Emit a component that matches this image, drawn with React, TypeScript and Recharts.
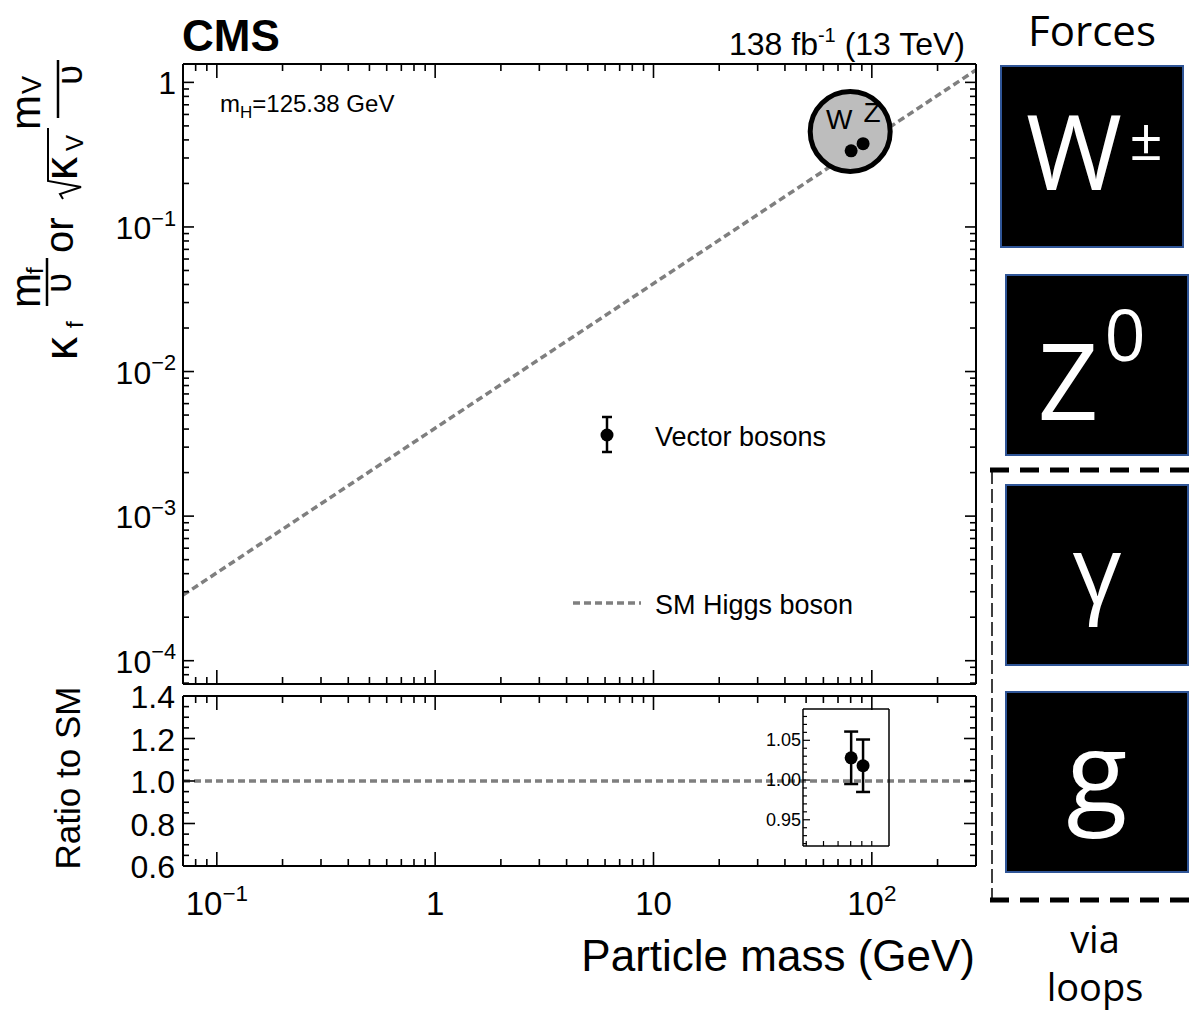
import React from 'react';
import {
  ComposedChart,
  Line,
  Scatter,
  XAxis,
  YAxis,
  ErrorBar,
  ReferenceDot,
} from 'recharts';

const FONT = "'Liberation Sans', Arial, Helvetica, sans-serif";
const SLIDE_FONT = "'Open Sans', 'Noto Sans', sans-serif";

// Vector boson measurements (W, Z)
const bosonNames = ['W', 'Z'];
const bosonMasses = [80.4, 91.19];
const bosonCouplings = [0.336, 0.377];
const bosonRatios = [1.028, 1.018];
const bosonRatioErrors = [0.033, 0.033];

// SM Higgs boson expectation (straight line on log-log axes)
const smMasses = [0.07, 300];
const smCouplings = [0.000284, 1.218];
const smRatios = [1, 1];

// Highlight circle around the W/Z points
const highlightMass = 79.6;
const highlightCoupling = 0.457;

// Axis ranges
const massDomain: [number, number] = [0.07, 300];
const couplingDomain: [number, number] = [6.9e-5, 1.34];
const ratioDomain: [number, number] = [0.6, 1.4];
const insetMassDomain: [number, number] = [48.3, 120];
const insetRatioDomain: [number, number] = [0.917, 1.0894];

// Tick positions
const massTicks = [
  0.07, 0.08, 0.09, 0.1, 0.2, 0.3, 0.4, 0.5, 0.6, 0.7, 0.8, 0.9,
  1, 2, 3, 4, 5, 6, 7, 8, 9, 10, 20, 30, 40, 50, 60, 70, 80, 90, 100, 200,
];
const couplingTicks = [
  7e-5, 8e-5, 9e-5,
  1e-4, 2e-4, 3e-4, 4e-4, 5e-4, 6e-4, 7e-4, 8e-4, 9e-4,
  1e-3, 2e-3, 3e-3, 4e-3, 5e-3, 6e-3, 7e-3, 8e-3, 9e-3,
  1e-2, 2e-2, 3e-2, 4e-2, 5e-2, 6e-2, 7e-2, 8e-2, 9e-2,
  0.1, 0.2, 0.3, 0.4, 0.5, 0.6, 0.7, 0.8, 0.9, 1,
];
const ratioTicks = [
  0.6, 0.65, 0.7, 0.75, 0.8, 0.85, 0.9, 0.95, 1.0, 1.05, 1.1, 1.15, 1.2,
  1.25, 1.3, 1.35, 1.4,
];
const insetRatioTicks = [
  0.92, 0.93, 0.94, 0.95, 0.96, 0.97, 0.98, 0.99, 1.0, 1.01, 1.02, 1.03,
  1.04, 1.05, 1.06, 1.07, 1.08,
];
const insetMassTicks = [50, 60, 70, 80, 90, 100];

const smLine = smMasses.map((m, i) => ({ mass: m, value: smCouplings[i] }));
const smRatioLine = smMasses.map((m, i) => ({ mass: m, ratio: smRatios[i] }));
const bosonPoints = bosonNames.map((n, i) => ({
  name: n,
  mass: bosonMasses[i],
  value: bosonCouplings[i],
}));
const bosonRatioPoints = bosonNames.map((n, i) => ({
  name: n,
  mass: bosonMasses[i],
  ratio: bosonRatios[i],
  err: bosonRatioErrors[i],
}));

const isPow10 = (v: number) => {
  const l = Math.log10(v);
  return Math.abs(l - Math.round(l)) < 1e-6;
};
const isMultipleOf = (step: number) => (v: number) =>
  Math.abs(v / step - Math.round(v / step)) < 1e-6;

type Side = 'bottom' | 'top' | 'left' | 'right';

const buildTick =
  (
    side: Side,
    isMajor: (v: number) => boolean,
    majorLen: number,
    minorLen: number,
    label?: (v: number, x: number, y: number) => React.ReactNode,
    width = 1.6,
  ) =>
  (props: any) => {
    const { x, y, payload } = props;
    const v = Number(payload.value);
    const major = isMajor(v);
    const len = major ? majorLen : minorLen;
    const dx = side === 'left' ? len : side === 'right' ? -len : 0;
    const dy = side === 'bottom' ? -len : side === 'top' ? len : 0;
    return (
      <g>
        <line x1={x} y1={y} x2={x + dx} y2={y + dy} stroke="#000" strokeWidth={width} />
        {label && major ? label(v, x, y) : null}
      </g>
    );
  };

// 10^k tick label
const powerText = (v: number, x: number, y: number, anchor: 'middle' | 'end', size: number) => {
  const k = Math.round(Math.log10(v));
  if (k === 0 || k === 1) {
    return (
      <text x={x} y={y} textAnchor={anchor} fontFamily={FONT} fontSize={size} fill="#000">
        {k === 0 ? '1' : '10'}
      </text>
    );
  }
  const exp = k < 0 ? `\u2212${-k}` : `${k}`;
  return (
    <text x={x} y={y} textAnchor={anchor} fontFamily={FONT} fontSize={size} fill="#000">
      10
      <tspan dy={-size * 0.42} fontSize={size * 0.68}>
        {exp}
      </tspan>
    </text>
  );
};

const massLabel = (v: number, x: number, y: number) => powerText(v, x, y + 49, 'middle', 33);
const couplingLabel = (v: number, x: number, y: number) => powerText(v, x - 7, y + 12, 'end', 32);
const ratioLabel = (v: number, x: number, y: number) => (
  <text x={x - 8} y={y + 12} textAnchor="end" fontFamily={FONT} fontSize={32} fill="#000">
    {v.toFixed(1)}
  </text>
);
const insetRatioLabel = (v: number, x: number, y: number) => (
  <text x={x - 2} y={y + 6} textAnchor="end" fontFamily={FONT} fontSize={18} fill="#000">
    {v.toFixed(2)}
  </text>
);

const frame = { stroke: '#000', strokeWidth: 2 };
const noTickLine = { tickLine: false, tickSize: 0, tickMargin: 0, interval: 0 as const };

const renderBoson = (p: any) => {
  const { cx, cy, payload } = p;
  const isW = payload.name === 'W';
  return (
    <g>
      <circle cx={cx} cy={cy} r={6.5} fill="#000" />
      <text
        x={cx + (isW ? -12 : 9)}
        y={cy - 22}
        textAnchor="middle"
        fontFamily={FONT}
        fontSize={28}
        fill="#000"
      >
        {payload.name}
      </text>
    </g>
  );
};

const renderRatioPoint = (p: any) => <circle cx={p.cx} cy={p.cy} r={6.5} fill="#000" />;

const SM_STROKE = '#7f7f7f';

// Axes are given a 1px band so they render; margins are reduced by the same amount
function MainPanel() {
  return (
    <ComposedChart width={1000} height={700} margin={{ top: 63, right: 23, bottom: 15, left: 182 }}>
      <XAxis
        xAxisId="b"
        type="number"
        dataKey="mass"
        scale="log"
        domain={massDomain}
        allowDataOverflow
        ticks={massTicks}
        tick={buildTick('bottom', isPow10, 14, 7)}
        height={1}
        axisLine={frame}
        {...noTickLine}
      />
      <XAxis
        xAxisId="t"
        orientation="top"
        type="number"
        dataKey="mass"
        scale="log"
        domain={massDomain}
        allowDataOverflow
        ticks={massTicks}
        tick={buildTick('top', isPow10, 14, 7)}
        height={1}
        axisLine={frame}
        {...noTickLine}
      />
      <YAxis
        yAxisId="l"
        type="number"
        dataKey="value"
        scale="log"
        domain={couplingDomain}
        allowDataOverflow
        ticks={couplingTicks}
        tick={buildTick('left', isPow10, 11, 6, couplingLabel)}
        width={1}
        axisLine={frame}
        {...noTickLine}
      />
      <YAxis
        yAxisId="r"
        orientation="right"
        type="number"
        dataKey="value"
        scale="log"
        domain={couplingDomain}
        allowDataOverflow
        ticks={couplingTicks}
        tick={buildTick('right', isPow10, 11, 6)}
        width={1}
        axisLine={frame}
        {...noTickLine}
      />
      <ReferenceDot
        xAxisId="b"
        yAxisId="l"
        x={highlightMass}
        y={highlightCoupling}
        r={40}
        fill="#bdbdbd"
        stroke="#000"
        strokeWidth={5}
        ifOverflow="visible"
      />
      <Line
        xAxisId="b"
        yAxisId="l"
        data={smLine}
        dataKey="value"
        stroke={SM_STROKE}
        strokeWidth={3.5}
        strokeDasharray="7 4"
        dot={false}
        activeDot={false}
        isAnimationActive={false}
      />
      <Scatter
        xAxisId="b"
        yAxisId="l"
        data={bosonPoints}
        dataKey="value"
        shape={renderBoson}
        isAnimationActive={false}
      />
    </ComposedChart>
  );
}

function RatioPanel() {
  return (
    <ComposedChart width={1000} height={334} margin={{ top: 15, right: 23, bottom: 147, left: 182 }}>
      <XAxis
        xAxisId="b"
        type="number"
        dataKey="mass"
        scale="log"
        domain={massDomain}
        allowDataOverflow
        ticks={massTicks}
        tick={buildTick('bottom', isPow10, 14, 7, massLabel)}
        height={1}
        axisLine={frame}
        {...noTickLine}
      />
      <XAxis
        xAxisId="t"
        orientation="top"
        type="number"
        dataKey="mass"
        scale="log"
        domain={massDomain}
        allowDataOverflow
        ticks={massTicks}
        tick={buildTick('top', isPow10, 14, 7)}
        height={1}
        axisLine={frame}
        {...noTickLine}
      />
      <YAxis
        yAxisId="l"
        type="number"
        dataKey="ratio"
        domain={ratioDomain}
        allowDataOverflow
        ticks={ratioTicks}
        tick={buildTick('left', isMultipleOf(0.2), 12, 6, ratioLabel)}
        width={1}
        axisLine={frame}
        {...noTickLine}
      />
      <YAxis
        yAxisId="r"
        orientation="right"
        type="number"
        dataKey="ratio"
        domain={ratioDomain}
        allowDataOverflow
        ticks={ratioTicks}
        tick={buildTick('right', isMultipleOf(0.2), 12, 6)}
        width={1}
        axisLine={frame}
        {...noTickLine}
      />
      <Line
        xAxisId="b"
        yAxisId="l"
        data={smRatioLine}
        dataKey="ratio"
        stroke={SM_STROKE}
        strokeWidth={3.5}
        strokeDasharray="7 4"
        dot={false}
        activeDot={false}
        isAnimationActive={false}
      />
    </ComposedChart>
  );
}

function InsetPanel() {
  const thin = { stroke: '#000', strokeWidth: 1.5 };
  return (
    <ComposedChart width={160} height={160} margin={{ top: 8, right: 10, bottom: 13, left: 62 }}>
      <XAxis
        xAxisId="b"
        type="number"
        dataKey="mass"
        scale="log"
        domain={insetMassDomain}
        allowDataOverflow
        ticks={insetMassTicks}
        tick={buildTick('bottom', () => false, 5, 5, undefined, 1.2)}
        height={1}
        axisLine={thin}
        {...noTickLine}
      />
      <XAxis
        xAxisId="t"
        orientation="top"
        type="number"
        dataKey="mass"
        scale="log"
        domain={insetMassDomain}
        allowDataOverflow
        tick={false}
        height={1}
        axisLine={thin}
        {...noTickLine}
      />
      <YAxis
        yAxisId="l"
        type="number"
        dataKey="ratio"
        domain={insetRatioDomain}
        allowDataOverflow
        ticks={insetRatioTicks}
        tick={buildTick('left', isMultipleOf(0.05), 7, 4, insetRatioLabel, 1.2)}
        width={1}
        axisLine={thin}
        {...noTickLine}
      />
      <YAxis
        yAxisId="r"
        orientation="right"
        type="number"
        dataKey="ratio"
        domain={insetRatioDomain}
        allowDataOverflow
        tick={false}
        width={1}
        axisLine={thin}
        {...noTickLine}
      />
      <Scatter
        xAxisId="b"
        yAxisId="l"
        data={bosonRatioPoints}
        dataKey="ratio"
        shape={renderRatioPoint}
        isAnimationActive={false}
      >
        <ErrorBar dataKey="err" direction="y" width={7} stroke="#000" strokeWidth={2.5} />
      </Scatter>
    </ComposedChart>
  );
}

// Rotated y-axis title: kappa_f m_f / v  or  sqrt(kappa_V) m_V / v
function CouplingAxisTitle() {
  const t = { fontFamily: FONT, fill: '#000' };
  return (
    <g transform="translate(3,380) rotate(-90)">
      {/* kappa_f */}
      <text x={20} y={74} fontSize={46} {...t}>κ</text>
      <text x={52} y={80} fontSize={24} {...t}>f</text>
      {/* m_f / upsilon */}
      <text x={72} y={37} fontSize={42} {...t}>m</text>
      <text x={106} y={40} fontSize={24} {...t}>f</text>
      <line x1={74} y1={44} x2={122} y2={44} stroke="#000" strokeWidth={2.5} />
      <text x={97} y={68} fontSize={36} textAnchor="middle" {...t}>υ</text>
      {/* or */}
      <text x={127} y={70} fontSize={40} {...t}>or</text>
      {/* sqrt(kappa_V) */}
      <path d="M181,60 L186,57 L193,78 L199,45 L252,45" fill="none" stroke="#000" strokeWidth={2} />
      <text x={200} y={74} fontSize={46} {...t}>κ</text>
      <text x={229} y={80} fontSize={24} {...t}>V</text>
      {/* m_V / upsilon */}
      <text x={250} y={37} fontSize={42} {...t}>m</text>
      <text x={286} y={38} fontSize={27} {...t}>V</text>
      <line x1={262} y1={55} x2={320} y2={55} stroke="#000" strokeWidth={2.5} />
      <text x={305} y={79} fontSize={36} textAnchor="middle" {...t}>υ</text>
    </g>
  );
}

function Annotations() {
  const box = { fill: '#000', stroke: '#2f5597', strokeWidth: 2 };
  const white = { fill: '#fff', fontFamily: SLIDE_FONT, textAnchor: 'middle' as const };
  return (
    <svg
      width={1195}
      height={1014}
      style={{ position: 'absolute', left: 0, top: 0, pointerEvents: 'none' }}
    >
      {/* headers */}
      <text x={182} y={51} fontFamily={FONT} fontWeight="bold" fontSize={44} fill="#000">
        CMS
      </text>
      <text x={965} y={55} textAnchor="end" fontFamily={FONT} fontSize={32} fill="#000">
        138 fb
        <tspan dy={-13} fontSize={20}>-1</tspan>
        <tspan dy={13}> (13 TeV)</tspan>
      </text>
      <text x={220} y={112} fontFamily={FONT} fontSize={24} fill="#000">
        m
        <tspan dy={6} fontSize={17}>H</tspan>
        <tspan dy={-6}>=125.38 GeV</tspan>
      </text>

      <CouplingAxisTitle />
      <text
        transform="translate(80,778) rotate(-90)"
        textAnchor="middle"
        fontFamily={FONT}
        fontSize={35}
        fill="#000"
      >
        Ratio to SM
      </text>
      <text x={975} y={971} textAnchor="end" fontFamily={FONT} fontSize={44} fill="#000">
        Particle mass (GeV)
      </text>

      {/* legend */}
      <line x1={607} y1={417} x2={607} y2={452} stroke="#000" strokeWidth={2.5} />
      <line x1={602} y1={417} x2={612} y2={417} stroke="#000" strokeWidth={2.5} />
      <line x1={602} y1={452} x2={612} y2={452} stroke="#000" strokeWidth={2.5} />
      <circle cx={607} cy={435} r={6.5} fill="#000" />
      <text x={655} y={446} fontFamily={FONT} fontSize={27} fill="#000">
        Vector bosons
      </text>
      <line x1={573} y1={603} x2={641} y2={603} stroke={SM_STROKE} strokeWidth={3.5} strokeDasharray="7 4" />
      <text x={655} y={614} fontFamily={FONT} fontSize={27} fill="#000">
        SM Higgs boson
      </text>

      {/* force carriers */}
      <text x={1092} y={46} textAnchor="middle" fontFamily={SLIDE_FONT} fontSize={42} fill="#000">
        Forces
      </text>
      <rect x={1001} y={66} width={182} height={181} {...box} />
      <text x={1074} y={190} fontSize={104} {...white}>W</text>
      <text x={1146} y={160} fontSize={58} {...white}>±</text>
      <rect x={1006} y={275} width={182} height={180} {...box} />
      <text x={1068} y={420} fontSize={106} {...white}>Z</text>
      <text x={1125} y={361} fontSize={72} {...white}>0</text>

      <path d="M990,470 L1195,470" stroke="#000" strokeWidth={5} strokeDasharray="19 11" />
      <path d="M992,470 L992,900" stroke="#000" strokeWidth={1.5} strokeDasharray="14 5" />
      <path d="M990,900 L1195,900" stroke="#000" strokeWidth={5} strokeDasharray="19 11" />

      <rect x={1006} y={485} width={182} height={180} {...box} />
      <text x={1097} y={604} fontSize={96} {...white}>γ</text>
      <rect x={1006} y={692} width={182} height={180} {...box} />
      <text x={1097} y={812} fontSize={112} {...white}>g</text>

      <text x={1095} y={953} textAnchor="middle" fontFamily={SLIDE_FONT} fontSize={38} fill="#000">
        via
      </text>
      <text x={1095} y={1001} textAnchor="middle" fontFamily={SLIDE_FONT} fontSize={38} fill="#000">
        loops
      </text>
    </svg>
  );
}

export default function App() {
  return (
    <div
      style={{
        position: 'absolute',
        left: 0,
        top: 0,
        width: 1195,
        height: 1014,
        background: '#fff',
        fontFamily: FONT,
        overflow: 'hidden',
      }}
    >
      <div style={{ position: 'absolute', left: 0, top: 0 }}>
        <MainPanel />
      </div>
      <div style={{ position: 'absolute', left: 0, top: 680 }}>
        <RatioPanel />
      </div>
      <div style={{ position: 'absolute', left: 740, top: 700 }}>
        <InsetPanel />
      </div>
      <Annotations />
    </div>
  );
}
